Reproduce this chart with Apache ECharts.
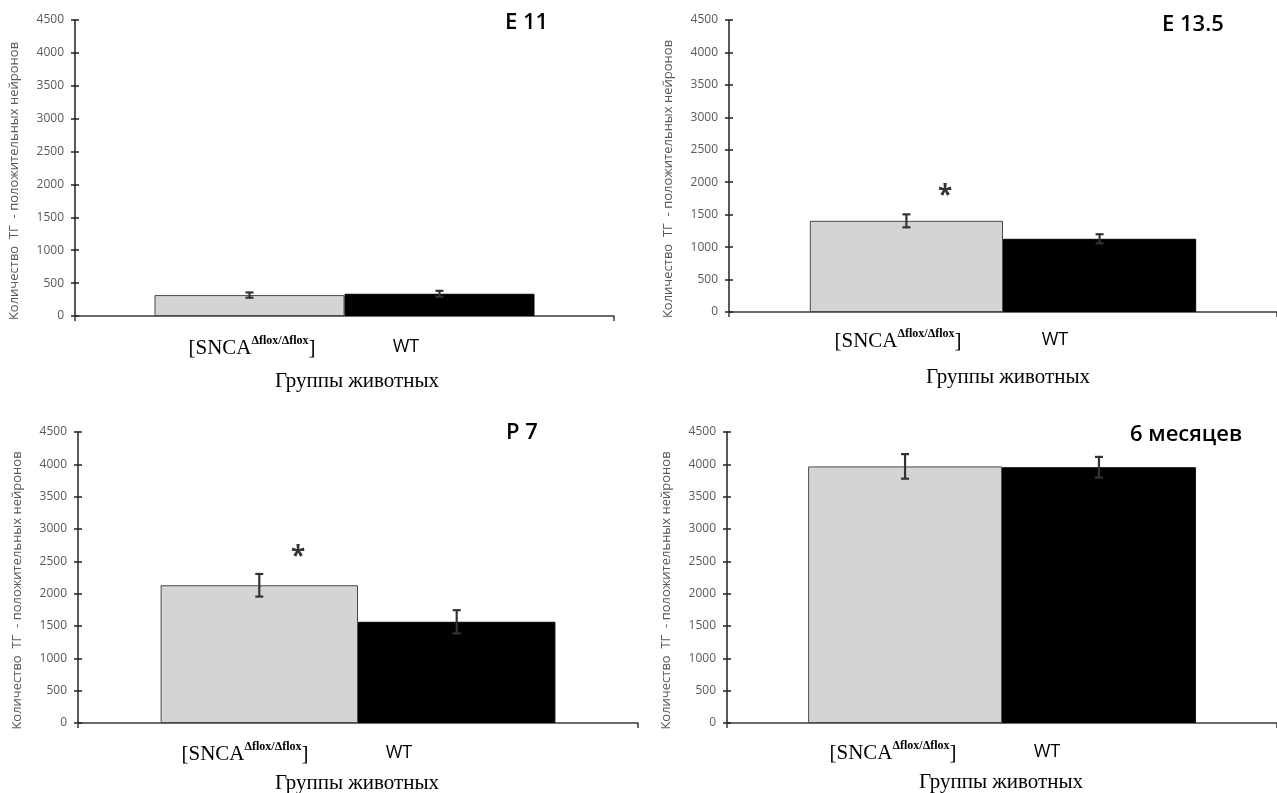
<!DOCTYPE html>
<html>
<head>
<meta charset="utf-8">
<script src="https://cdn.jsdelivr.net/npm/echarts@6/dist/echarts.min.js"></script>
<style>
html,body{margin:0;padding:0;background:#fff;}
#chart{width:1277px;height:793px;}
</style>
</head>
<body>
<div id="chart"></div>
<script>
// ---- data ----
const panelTitles = ['E 11', 'E 13.5', 'P 7', '6 месяцев'];
const groupNames = ['SNCA Δflox/Δflox', 'WT'];
const sncaMean = [318, 1405, 2130, 3968];
const sncaErr = [40, 100, 175, 190];
const wtMean = [338, 1128, 1565, 3955];
const wtErr = [45, 70, 180, 160];
const starValue = [null, 1854, 2629, null];
const yMin = 0, yMax = 4500, yStep = 500;
const yName = 'Количество  ТГ  - положительных нейронов';
const xName = 'Группы животных';

// ---- layout ----
const GAP = 0.295;
const grids = [
  {left: 75, top: 20, width: 539, height: 296},
  {left: 729, top: 20, width: 558, height: 292},
  {left: 78, top: 432, width: 560, height: 291},
  {left: 727, top: 432, width: 560, height: 291}
];
const labelPos = [
  {snca: [252, 347], wt: [406, 347], xt: [357, 381], title: [505, 23]},
  {snca: [898, 340], wt: [1055, 340], xt: [1008, 377], title: [1162, 25]},
  {snca: [245, 753], wt: [399, 753], xt: [357, 783], title: [506, 433]},
  {snca: [893, 752], wt: [1047, 752], xt: [1001, 782], title: [1130, 435]}
];
const starOffset = [0, -58, -60, 0];

const chart = echarts.init(document.getElementById('chart'));

function errRender(params, api) {
  const cat = api.value(0), mean = api.value(1), err = api.value(2), side = api.value(3);
  const band = api.size([1, 0])[0];
  const barW = band * (1 - GAP) / 2;
  const cx = api.coord([cat, mean])[0] + (side === 0 ? -barW / 2 : barW / 2);
  const top = api.coord([cat, mean + err])[1];
  const bot = api.coord([cat, mean - err])[1];
  const cap = 4;
  const st = {stroke: '#333', lineWidth: 2.2};
  return {
    type: 'group',
    children: [
      {type: 'line', shape: {x1: cx, y1: top, x2: cx, y2: bot}, style: st},
      {type: 'line', shape: {x1: cx - cap, y1: top, x2: cx + cap, y2: top}, style: st},
      {type: 'line', shape: {x1: cx - cap, y1: bot, x2: cx + cap, y2: bot}, style: st}
    ]
  };
}

const xAxes = [], yAxes = [], series = [], graphics = [];
grids.forEach((g, i) => {
  xAxes.push({
    type: 'category', gridIndex: i, data: [''],
    axisLine: {lineStyle: {color: '#3a3a3a', width: 1.5}},
    axisTick: {show: true, length: 5, lineStyle: {color: '#3a3a3a', width: 1.5}},
    axisLabel: {show: false}, splitLine: {show: false}
  });
  yAxes.push({
    type: 'value', gridIndex: i, min: yMin, max: yMax, interval: yStep,
    axisLine: {show: true, lineStyle: {color: '#222', width: 1.5}},
    axisTick: {show: true, length: 4, lineStyle: {color: '#222', width: 1.5}},
    axisLabel: {color: '#595959', fontSize: 12, fontFamily: 'Open Sans', margin: 11,
      formatter: v => String(v)},
    splitLine: {show: false},
    name: yName, nameLocation: 'middle', nameRotate: 90, nameGap: 54,
    nameTextStyle: {color: '#595959', fontSize: 13, fontFamily: 'Open Sans', padding: [0, 26, 0, 0]}
  });
  yAxes.push({
    type: 'value', gridIndex: i, min: yMin, max: yMax, interval: yStep, position: 'left',
    axisLine: {show: false},
    axisTick: {show: true, inside: true, length: 4, lineStyle: {color: '#222', width: 1.5}},
    axisLabel: {show: false}, splitLine: {show: false}
  });
  series.push({
    type: 'bar', name: groupNames[0], xAxisIndex: i, yAxisIndex: 2 * i,
    data: [sncaMean[i]], barGap: '0%', barCategoryGap: (GAP * 100) + '%',
    itemStyle: {color: '#d4d4d4', borderColor: '#4a4a4a', borderWidth: 1}
  });
  series.push({
    type: 'bar', name: groupNames[1], xAxisIndex: i, yAxisIndex: 2 * i,
    data: [wtMean[i]], barGap: '0%', barCategoryGap: (GAP * 100) + '%',
    itemStyle: {color: '#000', borderColor: '#000', borderWidth: 1}
  });
  series.push({
    type: 'custom', xAxisIndex: i, yAxisIndex: 2 * i, z: 5,
    renderItem: errRender,
    data: [[0, sncaMean[i], sncaErr[i], 0], [0, wtMean[i], wtErr[i], 1]]
  });
  if (starValue[i] !== null) {
    series.push({
      type: 'scatter', xAxisIndex: i, yAxisIndex: 2 * i, symbolSize: 2,
      itemStyle: {color: 'rgba(0,0,0,0)'}, z: 6, silent: true,
      data: [[0, starValue[i]]],
      label: {show: true, position: 'inside', formatter: '*', offset: [starOffset[i], 5],
        fontSize: 26, fontWeight: 'bold', color: '#000', fontFamily: 'Open Sans'}
    });
  }
  const p = labelPos[i];
  graphics.push({
    type: 'text', x: p.snca[0], y: p.snca[1],
    style: {
      text: '{m|[SNCA}{s|Δflox/Δflox}{m|]}',
      align: 'center', verticalAlign: 'middle', fill: '#000',
      rich: {
        m: {font: '21px "Liberation Serif"', lineHeight: 24, verticalAlign: 'bottom'},
        s: {font: 'bold 12px "Liberation Serif"', lineHeight: 22, verticalAlign: 'top', padding: [0, 0, 0, 0]}
      }
    }
  });
  graphics.push({
    type: 'text', x: p.wt[0], y: p.wt[1],
    style: {text: groupNames[1], align: 'center', verticalAlign: 'middle', fill: '#000',
      font: '18px "Open Sans"'}
  });
  graphics.push({
    type: 'text', x: p.xt[0], y: p.xt[1],
    style: {text: xName, align: 'center', verticalAlign: 'middle', fill: '#000',
      font: '21px "Liberation Serif"'}
  });
  graphics.push({
    type: 'text', x: p.title[0], y: p.title[1],
    style: {text: panelTitles[i], align: 'left', verticalAlign: 'middle', fill: '#000',
      font: '600 22px "Open Sans"'}
  });
});

chart.setOption({
  backgroundColor: '#fff',
  animation: false,
  grid: grids,
  xAxis: xAxes,
  yAxis: yAxes,
  series: series,
  graphic: graphics
});
</script>
</body>
</html>
